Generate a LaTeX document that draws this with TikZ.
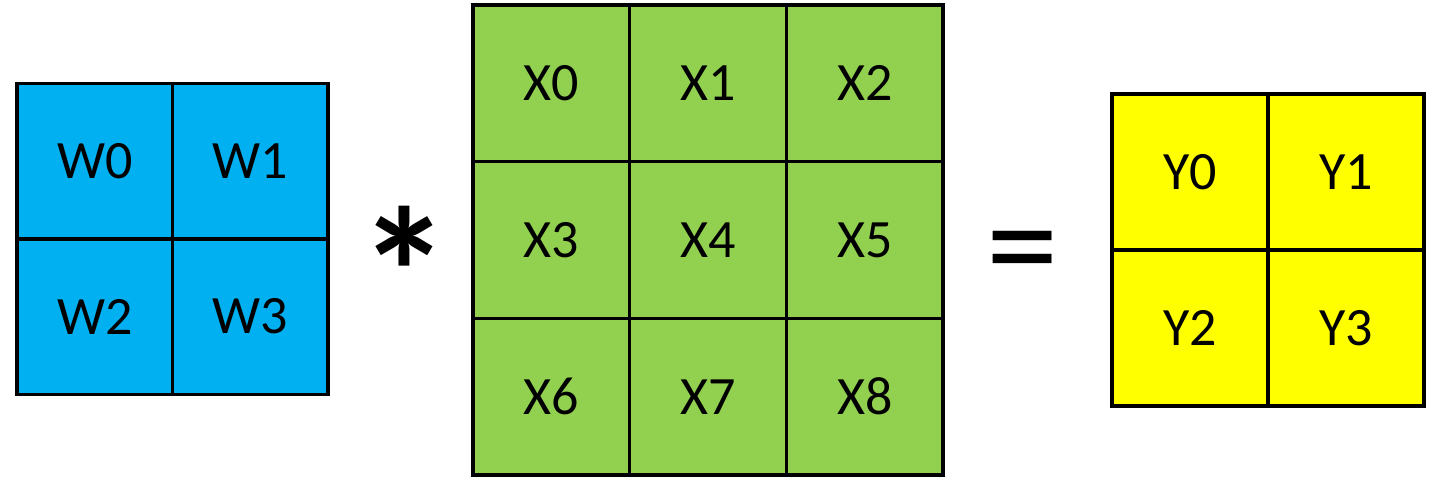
\documentclass[tikz,border=0pt]{standalone}
\usepackage{fontspec}
\setmainfont{Carlito}
\definecolor{wblue}{HTML}{00B0F0}
\definecolor{xgreen}{HTML}{92D050}
\definecolor{yyellow}{HTML}{FFFF00}
\begin{document}
\begin{tikzpicture}[x=1pt,y=-1pt,
  cell/.style={draw=black,line width=3.5pt,minimum width=#1,minimum height=#1,inner sep=0pt,outer sep=0pt,
    font=\fontsize{54}{60}\selectfont},
  wcell/.style={cell=155.5pt,fill=wblue},
  xcell/.style={cell=156.7pt,fill=xgreen},
  ycell/.style={cell=156pt,fill=yyellow},
  op/.style={inner sep=0pt,font=\fontsize{#1}{#1}\selectfont}]
\useasboundingbox (0,0) rectangle (1447,485);
% W
\node[wcell] (w0) at (94.75,161) {W0};
\node[wcell] (w1) at (250.25,161) {W1};
\node[wcell] (w2) at (94.75,316.5) {W2};
\node[wcell] (w3) at (250.25,316.5) {W3};
% X
\foreach \i/\cx/\cy in {0/551.3/83.3,1/708/83.3,2/864.7/83.3,
                        3/551.3/240,4/708/240,5/864.7/240,
                        6/551.3/396.7,7/708/396.7,8/864.7/396.7}
  \node[xcell] (x\i) at (\cx,\cy) {X\i};
% Y
\node[ycell] (y0) at (1190,172) {Y0};
\node[ycell] (y1) at (1346,172) {Y1};
\node[ycell] (y2) at (1190,328) {Y2};
\node[ycell] (y3) at (1346,328) {Y3};
% operators
\node[op=185,font=\bfseries\fontsize{185}{185}\selectfont] (star) at (405,272) {*};
\node[op=145] (eq) at (1023,262) {=};
\end{tikzpicture}
\end{document}
